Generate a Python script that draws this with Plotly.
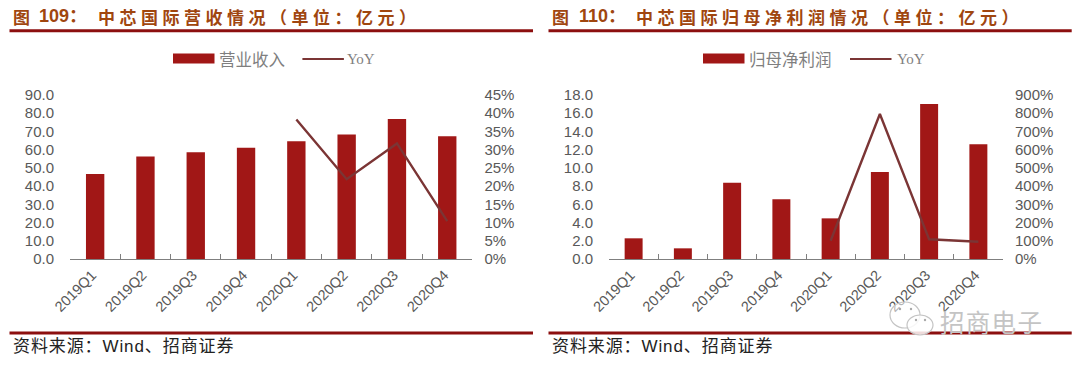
import plotly.graph_objects as go

quarters = ["2019Q1", "2019Q2", "2019Q3", "2019Q4", "2020Q1", "2020Q2", "2020Q3", "2020Q4"]
revenue = [46.6, 56.2, 58.6, 61.0, 64.6, 68.3, 76.8, 67.4]
revenue_yoy = [None, None, None, None, 38.3, 21.9, 31.7, 10.4]
profit = [2.27, 1.17, 8.37, 6.55, 4.46, 9.55, 17.0, 12.6]
profit_yoy = [None, None, None, None, 100, 796, 108, 95]
left_ticks = [0, 10, 20, 30, 40, 50, 60, 70, 80, 90]
left_pct_ticks = [0, 5, 10, 15, 20, 25, 30, 35, 40, 45]
right_ticks = [0, 2, 4, 6, 8, 10, 12, 14, 16, 18]
right_pct_ticks = [0, 100, 200, 300, 400, 500, 600, 700, 800, 900]

W, H = 1080, 369
BAR = "#a11716"
LINE = "#7b3535"
RULE = "#8c0f0f"
TITLE = "#a0460f"
GREY = "#595959"
AX = "Liberation Sans, Arial, sans-serif"
CJK = "Noto Sans CJK SC"
MIX = f"Liberation Sans, {CJK}"

def px(v): return v / W
def py(v): return 1 - v / H

fig = go.Figure()
for bars, yoy, name, xa, ya, ya2 in [
    (revenue, revenue_yoy, "营业收入", "x", "y", "y2"),
    (profit, profit_yoy, "归母净利润", "x2", "y3", "y4"),
]:
    fig.add_trace(go.Bar(x=quarters, y=bars, name=name, xaxis=xa, yaxis=ya,
                         marker=dict(color=BAR, line=dict(width=0)), width=0.365, showlegend=False))
    fig.add_trace(go.Scatter(x=quarters, y=yoy, name="YoY", xaxis=xa, yaxis=ya2, mode="lines",
                             line=dict(color=LINE, width=2.4), showlegend=False))

def xaxis(domain):
    return dict(domain=domain, type="category", categoryorder="array", categoryarray=quarters,
                tickson="boundaries", ticks="inside", ticklen=5, tickcolor="#7f7f7f", tickwidth=1,
                showline=True, linecolor="#7f7f7f", linewidth=1, showgrid=False, zeroline=False,
                tickangle=-45, tickfont=dict(family=AX, size=14.5, color=GREY), automargin=False,
                ticklabelstandoff=1, ticklabelshift=-3)

def yaxis(rng, vals, texts, standoff, domain=None, **kw):
    d = dict(range=rng, tickmode="array", tickvals=vals, ticktext=texts, showgrid=False, zeroline=False,
             showline=False, ticks="", ticklabelstandoff=standoff,
             tickfont=dict(family=AX, size=15, color=GREY), automargin=False)
    if domain: d["domain"] = domain
    d.update(kw)
    return d

ydom = [py(259), py(95)]
xd1 = [px(70), px(472.4)]
xd2 = [px(609), px(1003)]
fig.update_layout(
    width=W, height=H, margin=dict(l=0, r=0, t=0, b=0, autoexpand=False), paper_bgcolor="white", plot_bgcolor="white",
    bargap=0.63, showlegend=False,
    xaxis=xaxis(xd1), xaxis2=xaxis(xd2),
    yaxis=yaxis([0, 90], left_ticks, [f"{v:.1f}" for v in left_ticks], 15, ydom, anchor="x"),
    yaxis2=yaxis([0, 45], left_pct_ticks, [f"{v}%" for v in left_pct_ticks], 11, overlaying="y", side="right", anchor="x"),
    yaxis3=yaxis([0, 18], right_ticks, [f"{v:.1f}" for v in right_ticks], 15, ydom, anchor="x2"),
    yaxis4=yaxis([0, 900], right_pct_ticks, [f"{v}%" for v in right_pct_ticks], 11, overlaying="y3", side="right", anchor="x2"),
)

shapes, notes = [], []
def rule(x0, x1, y, w=2.5):
    shapes.append(dict(type="line", xref="paper", yref="paper", x0=px(x0), x1=px(x1), y0=py(y), y1=py(y),
                       line=dict(color=RULE, width=w)))
def text(x, y, s, size, color, family=CJK, anchor="left", bold=False):
    t = f"<b>{s}</b>" if bold else s
    notes.append(dict(xref="paper", yref="paper", x=px(x), y=py(y), text=t, showarrow=False, xanchor=anchor,
                      yanchor="middle", font=dict(family=family, size=size, color=color)))

for x0, x1, fig_word_x, num, num_x, body, body_x, swatch_x, name, name_x, line_x, yoy_x in [
    (9.5, 533, 11, "109：", 37, "中芯国际营收情况（单位：亿元）", 96, 173, "营业收入", 216.5, 302.4, 345),
    (548.5, 1071.7, 550, "110：", 577, "中芯国际归母净利润情况（单位：亿元）", 634, 703, "归母净利润", 746.5, 850, 894.5),
]:
    rule(x0, x1, 30.7, 3)
    rule(x0, x1, 333, 3)
    text(fig_word_x, 16, "图", 17, TITLE, CJK, bold=True)
    text(num_x, 16, num, 18, TITLE, MIX, bold=True)
    text(body_x, 16, body, 17, TITLE, CJK, bold=True)
    text(x0 + 1.5, 346, "资料来源：Wind、招商证券", 17, "#222222", MIX)
    shapes.append(dict(type="rect", xref="paper", yref="paper", x0=px(swatch_x), x1=px(swatch_x + 41.5), y0=py(63.5), y1=py(53.5),
                       fillcolor=BAR, line=dict(width=0)))
    text(name_x, 58.5, name, 16.5, "#7f7f7f")
    shapes.append(dict(type="line", xref="paper", yref="paper", x0=px(line_x), x1=px(line_x + 41.5), y0=py(59), y1=py(59),
                       line=dict(color=LINE, width=2)))
    text(yoy_x, 59, "YoY", 15, "#7f7f7f", "Liberation Serif, serif")

WM = "#c4c4c4"
for cx, cy, rx, ry, fill in [(905, 315, 15, 13, "rgba(255,255,255,0.55)"), (920, 325, 13, 10, "rgba(255,255,255,0.85)")]:
    shapes.append(dict(type="circle", xref="paper", yref="paper", x0=px(cx - rx), x1=px(cx + rx),
                       y0=py(cy + ry), y1=py(cy - ry), fillcolor=fill, line=dict(color=WM, width=1.2)))
for cx, cy in [(900, 309), (911, 309), (916, 320), (925, 320)]:
    shapes.append(dict(type="circle", xref="paper", yref="paper", x0=px(cx - 1.2), x1=px(cx + 1.2),
                       y0=py(cy + 1.2), y1=py(cy - 1.2), fillcolor="#a9a9a9", line=dict(width=0)))
text(938, 321, "招商电子", 24.5, WM, CJK)

fig.update_layout(shapes=shapes, annotations=notes)

css = """
document.body.style.margin='0';
document.querySelectorAll('.annotation-text').forEach(function(t){
  var s=t.textContent, sp=0;
  if(s.indexOf('中芯')===0){sp=4.5;}
  else if(s.indexOf('招商电子')===0){sp=1.3;}
  else if(s.indexOf('资料')===0){sp=0.9;}
  if(sp){var b=t.getBBox();t.setAttribute('x',b.x);t.style.textAnchor='start';t.style.letterSpacing=sp+'px';}
});
"""
fig.write_html("out.html", post_script=css, config=dict(displayModeBar=False))
